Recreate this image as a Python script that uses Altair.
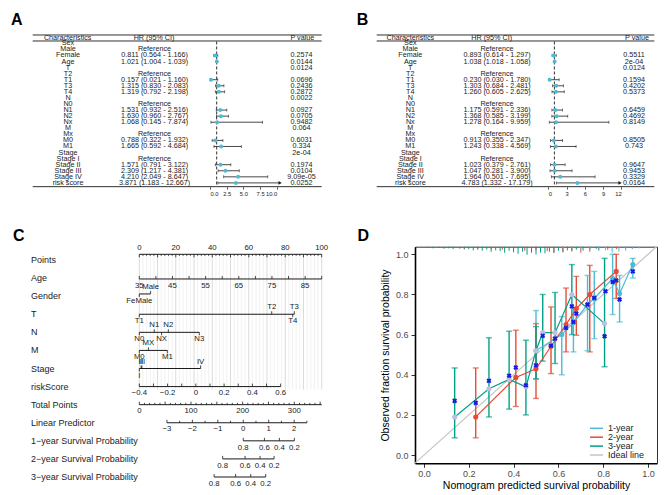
import altair as alt
import pandas as pd

W, H = 653, 484


def P(v):
    return v - 8.0


SANS = "Liberation Sans, Arial, Helvetica, sans-serif"
INK = "#1a1a1a"
CYAN = "#4DBBD5"

# ---------------- Panel A / B : forest tables ----------------
chars = ["Sex", "Male", "Female", "Age", "T", "T2", "T1", "T3", "T4", "N", "N0", "N1", "N2", "Nx",
         "M", "Mx", "M0", "M1", "Stage", "Stage I", "Stage II", "Stage III", "Stage IV", "risk score"]
ref_levels = ["Male", "T2", "N0", "Mx", "Stage I"]

A_hr = [None, None, 0.811, 1.021, None, None, 0.157, 1.315, 1.319, None, None, 1.531, 1.630, 1.068,
        None, None, 0.788, 1.665, None, None, 1.571, 2.309, 4.210, 3.871]
A_lo = [None, None, 0.564, 1.004, None, None, 0.021, 0.830, 0.792, None, None, 0.932, 0.960, 0.145,
        None, None, 0.322, 0.592, None, None, 0.791, 1.217, 2.049, 1.183]
A_hi = [None, None, 1.166, 1.039, None, None, 1.160, 2.083, 2.198, None, None, 2.516, 2.767, 7.874,
        None, None, 1.932, 4.684, None, None, 3.122, 4.381, 8.647, 12.667]
A_p = ["", "", "0.2574", "0.0144", "0.0124", "", "0.0696", "0.2436", "0.2872", "0.0022", "", "0.0927",
       "0.0705", "0.9482", "0.064", "", "0.6031", "0.334", "2e-04", "", "0.1974", "0.0104", "9.09e-05", "0.0252"]

B_hr = [None, None, 0.893, 1.038, None, None, 0.230, 1.303, 1.260, None, None, 1.175, 1.368, 1.278,
        None, None, 0.913, 1.243, None, None, 1.023, 1.047, 1.964, 4.783]
B_lo = [None, None, 0.614, 1.018, None, None, 0.030, 0.684, 0.605, None, None, 0.591, 0.585, 0.164,
        None, None, 0.355, 0.338, None, None, 0.379, 0.281, 0.501, 1.332]
B_hi = [None, None, 1.297, 1.058, None, None, 1.780, 2.481, 2.625, None, None, 2.336, 3.199, 9.959,
        None, None, 2.347, 4.569, None, None, 2.761, 3.900, 7.695, 17.179]
B_p = ["", "", "0.5511", "2e-04", "0.0124", "", "0.1594", "0.4202", "0.5373", "", "", "0.6459", "0.4692",
       "0.8149", "", "", "0.8505", "0.743", "", "", "0.9647", "0.9453", "0.3329", "0.0164"]
headers = ["Characteristics", "HR (95% CI)", "P value"]

A_ticks = [0, 2.5, 5, 7.5, 10]
B_ticks = [0, 3, 6, 9, 12]

# ---------------- Panel C : nomogram ----------------
nomo_rows = ["Points", "Age", "Gender", "T", "N", "M", "Stage", "riskScore", "Total Points",
             "Linear Predictor", "1\u2212year Survival Probability", "2\u2212year Survival Probability",
             "3\u2212year Survival Probability"]
age_ticks = [35, 40, 45, 50, 55, 60, 65, 70, 75, 80, 85, 90]
age_labels = [35, 45, 55, 65, 75, 85]
gender_lv = ["FeMale", "Male"]
gender_pts = [0.0, 6.2]
gender_side = ["below", "above"]
T_lv = ["T1", "T2", "T3", "T4"]
T_pts = [0.0, 72.6, 85.0, 84.1]
T_side = ["below", "above", "above", "below"]
N_lv = ["N0", "N1", "NX", "N2", "N3"]
N_pts = [0.0, 8.2, 12.2, 15.9, 32.9]
N_side = ["below", "above", "below", "above", "below"]
M_lv = ["M0", "MX", "M1"]
M_pts = [0.0, 5.0, 15.4]
M_side = ["below", "above", "below"]
S_lv = ["I", "II", "III", "IV"]
S_pts = [0.0, 1.0, 1.4, 33.6]
S_side = ["below", "above", "above", "above"]
rs_ticks = [-0.4, -0.3, -0.2, -0.1, 0.0, 0.1, 0.2, 0.3, 0.4, 0.5, 0.6]
rs_labels = [-0.4, -0.2, 0.0, 0.2, 0.4, 0.6]
tp_labels = [0, 100, 200, 300]
lp_ticks = [-3, -2.5, -2, -1.5, -1, -0.5, 0, 0.5, 1, 1.5, 2, 2.5]
lp_labels = [-3, -2, -1, 0, 1, 2]
surv_probs = [0.8, 0.6, 0.4, 0.2]
surv1_pts = [57.0, 68.6, 76.8, 85.0]
surv2_pts = [45.7, 58.0, 66.2, 73.9]
surv3_pts = [41.0, 52.8, 61.1, 69.3]

# ---------------- Panel D : calibration ----------------
series = ["1-year", "2-year", "3-year"]
ser_colors = ["#4DBBD5", "#E64B35", "#00A087"]
d1_x = [0.50, 0.615, 0.667, 0.73, 0.76, 0.842, 0.873, 0.932]
d1_y = [0.52, 0.60, 0.66, 0.75, 0.78, 0.88, 0.805, 0.949]
d1_lo = [0.378, 0.40, 0.514, 0.52, 0.58, 0.70, 0.663, 0.882]
d1_hi = [0.72, 0.69, 0.733, 0.895, 0.915, 1.0, 0.895, 0.98]
d2_x = [0.231, 0.41, 0.50, 0.567, 0.634, 0.68, 0.74, 0.858]
d2_y = [0.19, 0.387, 0.43, 0.542, 0.65, 0.73, 0.80, 0.915]
d2_lo = [0.086, 0.242, 0.282, 0.406, 0.514, 0.597, 0.514, 0.78]
d2_hi = [0.434, 0.622, 0.655, 0.738, 0.832, 0.89, 0.945, 1.0]
d3_x = [0.137, 0.29, 0.38, 0.455, 0.50, 0.53, 0.585, 0.66, 0.806]
d3_y = [0.19, 0.33, 0.377, 0.34, 0.52, 0.61, 0.61, 0.80, 0.655]
d3_lo = [0.086, 0.19, 0.229, 0.20, 0.38, 0.468, 0.456, 0.60, 0.44]
d3_hi = [0.434, 0.584, 0.617, 0.572, 0.64, 0.80, 0.81, 0.949, 0.98]
bx_x = [0.137, 0.231, 0.29, 0.38, 0.41, 0.455, 0.5, 0.53, 0.567, 0.585, 0.634, 0.66, 0.667, 0.68,
        0.73, 0.76, 0.806, 0.81, 0.842, 0.858, 0.873, 0.932]
bx_y = [0.27, 0.26, 0.37, 0.395, 0.436, 0.348, 0.447, 0.594, 0.545, 0.58, 0.633, 0.741, 0.663, 0.705,
        0.75, 0.783, 0.592, 0.816, 0.862, 0.87, 0.775, 0.915]
rug3_x = [0.02, 0.04, 0.07, 0.09, 0.11, 0.13, 0.16, 0.18, 0.20, 0.22, 0.24, 0.26, 0.28, 0.30, 0.32, 0.34,
          0.36, 0.38, 0.40, 0.42, 0.44, 0.46, 0.48, 0.50, 0.52, 0.54, 0.56, 0.58, 0.60, 0.62, 0.64, 0.66,
          0.68, 0.71, 0.74, 0.77]
rug3_h = [0.005, 0.008, 0.006, 0.010, 0.008, 0.012, 0.010, 0.014, 0.012, 0.018, 0.015, 0.020, 0.014, 0.025,
          0.018, 0.022, 0.030, 0.020, 0.028, 0.035, 0.025, 0.040, 0.030, 0.038, 0.030, 0.033, 0.025, 0.030,
          0.020, 0.028, 0.018, 0.024, 0.015, 0.020, 0.012, 0.010]
rug2_x = [0.12, 0.18, 0.24, 0.30, 0.35, 0.40, 0.45, 0.50, 0.55, 0.58, 0.62, 0.66, 0.70, 0.74, 0.78, 0.82,
          0.86, 0.90, 0.93]
rug2_h = [0.006, 0.008, 0.010, 0.012, 0.015, 0.012, 0.020, 0.018, 0.022, 0.030, 0.025, 0.020, 0.030, 0.025,
          0.018, 0.015, 0.012, 0.010, 0.008]
rug1_x = [0.62, 0.66, 0.70, 0.74, 0.78, 0.81, 0.84, 0.87, 0.90, 0.93, 0.96]
rug1_h = [0.006, 0.008, 0.010, 0.015, 0.020, 0.018, 0.030, 0.025, 0.020, 0.012, 0.008]
legend_labels = ["1-year", "2-year", "3-year", "Ideal line"]
legend_colors = ["#4DBBD5", "#E64B35", "#00A087", "#C4C4C4"]
LAVENDER = "#BEBEDD"


def sc(dom, rng):
    return alt.Scale(domain=dom, range=rng, nice=False, zero=False)


def letter(t, x, y):
    return alt.Chart(pd.DataFrame({"t": [t]})).mark_text(
        fontSize=16, fontWeight="bold", font=SANS, color="black", align="center", baseline="middle"
    ).encode(x=alt.value(P(x)), y=alt.value(P(y)), text="t:N")


layers = []


# ---------------- forest builder ----------------
def forest(hr, lo, hi, pv, hr_max, clip, xpx, tpx, cpx, hpx, ticks, fmt, lab, lpx):
    n = len(chars)
    ys = sc([0, n - 1], [P(43.3), P(182.9)])
    xs = sc([0, hr_max], [P(xpx[0]), P(xpx[1])])
    hrtxt = []
    for i in range(n):
        if hr[i] is not None:
            hrtxt.append(f"{hr[i]:.3f} ({lo[i]:.3f} - {hi[i]:.3f})")
        elif chars[i] in ref_levels:
            hrtxt.append("Reference")
        else:
            hrtxt.append("")
    tab = pd.DataFrame({"row": list(range(n)), "char": chars, "hrtxt": hrtxt, "p": pv})
    idx = [i for i in range(n) if hr[i] is not None]
    est = pd.DataFrame({"row": idx, "hr": [hr[i] for i in idx], "lo": [lo[i] for i in idx],
                        "hi": [hi[i] for i in idx]})
    est["hi_c"] = est["hi"].clip(upper=clip)
    capped = est[est["hi"] <= clip]
    arrowed = est[est["hi"] > clip]

    def Y(f):
        return alt.Y(f, type="quantitative", scale=ys, axis=None)

    def X(f, axis=None):
        return alt.X(f, type="quantitative", scale=xs, axis=axis)

    out = []
    hl = pd.DataFrame({"ry": [-1.37, -0.38, n - 1 + 0.62]})
    out.append(alt.Chart(hl).mark_rule(color=INK, strokeWidth=0.9).encode(
        x=alt.value(P(tpx[0])), x2=alt.value(P(tpx[1])), y=Y("ry")))
    ref = pd.DataFrame({"x": [1.0], "y0": [-0.3], "y1": [n - 1 + 0.5]})
    out.append(alt.Chart(ref).mark_rule(color=INK, strokeWidth=0.9, strokeDash=[3, 2]).encode(
        x=X("x"), y=Y("y0"), y2=alt.Y2("y1")))
    out.append(alt.Chart(est).mark_rule(color=INK, strokeWidth=0.8).encode(
        x=X("lo"), x2=alt.X2("hi_c"), y=Y("row")))
    out.append(alt.Chart(est).mark_tick(orient="vertical", size=3, thickness=0.8, color=INK).encode(
        x=X("lo"), y=Y("row")))
    out.append(alt.Chart(capped).mark_tick(orient="vertical", size=3, thickness=0.8, color=INK).encode(
        x=X("hi"), y=Y("row")))
    out.append(alt.Chart(arrowed).mark_point(shape="triangle-right", filled=True, size=14, color=INK,
                                             opacity=1).encode(x=X("hi_c"), y=Y("row")))
    ax = alt.Axis(orient="bottom", offset=-(H - P(186.7)), values=ticks, format=fmt, domain=False,
                  grid=False, tickSize=2.5, tickColor=INK, tickWidth=0.7, labelFontSize=5.8,
                  labelFont=SANS, labelColor="#222", labelPadding=1, title=None)
    out.append(alt.Chart(est).mark_circle(size=16, color=CYAN, opacity=1).encode(
        x=X("hr", axis=ax), y=Y("row")))
    for field, xv in [("char", cpx[0]), ("hrtxt", cpx[1]), ("p", cpx[2])]:
        out.append(alt.Chart(tab).mark_text(align="center", baseline="middle", fontSize=7.2, font=SANS,
                                            color=INK).encode(x=alt.value(P(xv)), y=Y("row"),
                                                              text=f"{field}:N"))
    for t, xv in zip(headers, hpx):
        out.append(alt.Chart(pd.DataFrame({"row": [-0.82], "t": [t]})).mark_text(
            align="center", baseline="middle", fontSize=7.2, font=SANS, color=INK).encode(
            x=alt.value(P(xv)), y=Y("row"), text="t:N"))
    out.append(letter(lab, lpx[0], lpx[1]))
    return out


layers += forest(A_hr, A_lo, A_hi, A_p, 10, 10.5, (210, 276.8), (32.7, 321.7), (68, 154.5, 301.5),
                 (67.7, 154, 302.3), A_ticks, ".1f", "A", (16.8, 20))
layers += forest(B_hr, B_lo, B_hi, B_p, 12, 11.8, (548.3, 621.3), (376.7, 654.3), (410.3, 497, 634),
                 (410.3, 491.7, 637), B_ticks, "d", "B", (362.5, 20))

# ---------------- nomogram builder ----------------
ROWPX = (477.0 - 260.0) / 12.0


def r(px):
    return px / ROWPX


def fmtn(v):
    s = "%g" % v
    return s.replace("-", "\u2212")


ysC = sc([0, 12], [P(260), P(477)])
xsC = sc([0, 100], [P(139.3), P(321.7)])
lines, ticks, labs = [], [], []


def add_tick(x, y0, length, up):
    ticks.append({"x": x, "y1": y0, "y2": y0 - r(length) if up else y0 + r(length)})


# Points
y0 = 0 - r(5.7)
lines.append({"y": y0, "x1": 0, "x2": 100})
for v in range(0, 101, 2):
    add_tick(v, y0, 3 if v % 10 == 0 else 1.5, False)
for v in range(0, 101, 20):
    labs.append({"x": v, "y": y0 - r(6), "t": str(v)})
# Age
amin, amax = age_ticks[0], age_ticks[-1]
apts = lambda a: (a - amin) * 100.0 / (amax - amin)
y0 = 1 + r(0.9)
lines.append({"y": y0, "x1": apts(amin), "x2": apts(amax)})
for a in age_ticks:
    add_tick(apts(a), y0, 3, True)
for a in age_labels:
    labs.append({"x": apts(a), "y": y0 + r(6.7), "t": str(a)})
# categorical rows
for ri, lv, pts, side, off in [(2, gender_lv, gender_pts, gender_side, -2.2), (3, T_lv, T_pts, T_side, 0),
                               (4, N_lv, N_pts, N_side, 0), (5, M_lv, M_pts, M_side, 0),
                               (6, S_lv, S_pts, S_side, 0)]:
    y0 = ri + r(off)
    lines.append({"y": y0, "x1": min(pts), "x2": max(pts)})
    for l, p, s in zip(lv, pts, side):
        add_tick(p, y0, 3, s == "above")
        labs.append({"x": p, "y": y0 - r(7) if s == "above" else y0 + r(7), "t": l})
# riskScore
rs0, rs1, rs_end_pts = rs_ticks[0], rs_ticks[-1], 77.5
rpts = lambda v: (v - rs0) * rs_end_pts / (rs1 - rs0)
y0 = 7
lines.append({"y": y0, "x1": rpts(rs0), "x2": rpts(rs1)})
for v in rs_ticks:
    add_tick(rpts(v), y0, 3, True)
for v in rs_labels:
    labs.append({"x": rpts(v), "y": y0 + r(6.5), "t": fmtn(round(v, 1))})
# Total points
tp_max = 353.0
tpts = lambda v: v * 100.0 / tp_max
y0 = 8
lines.append({"y": y0, "x1": 0, "x2": 100})
for v in range(0, 351, 10):
    add_tick(tpts(v), y0, 3 if v % 50 == 0 else 1.8, True)
for v in tp_labels:
    labs.append({"x": tpts(v), "y": y0 + r(6.3), "t": str(v)})
# Linear predictor
lp_zero, lp_unit = 57.0, 13.95
lpts = lambda v: lp_zero + v * lp_unit
y0 = 9
lines.append({"y": y0, "x1": lpts(lp_ticks[0]), "x2": lpts(lp_ticks[-1])})
for v in lp_ticks:
    add_tick(lpts(v), y0, 3 if float(v).is_integer() else 2, True)
for v in lp_labels:
    labs.append({"x": lpts(v), "y": y0 + r(6.7), "t": fmtn(v)})
# survival rows
for ri, pts in [(10, surv1_pts), (11, surv2_pts), (12, surv3_pts)]:
    y0 = ri
    lines.append({"y": y0, "x1": min(pts), "x2": max(pts)})
    for pr, p in zip(surv_probs, pts):
        add_tick(p, y0, 3, True)
        labs.append({"x": p, "y": y0 + r(6.7), "t": fmtn(pr)})

grid_minor = pd.DataFrame({"x": [v for v in range(0, 101, 2) if v % 10], "y1": -r(5.7), "y2": 7 + r(3)})
grid_major = pd.DataFrame({"x": list(range(0, 101, 10)), "y1": -r(5.7), "y2": 7 + r(3)})


def XC(f):
    return alt.X(f, type="quantitative", scale=xsC, axis=None)


def YC(f):
    return alt.Y(f, type="quantitative", scale=ysC, axis=None)


layers.append(alt.Chart(grid_minor).mark_rule(color="#EBEBEB", strokeWidth=0.7).encode(
    x=XC("x"), y=YC("y1"), y2=alt.Y2("y2")))
layers.append(alt.Chart(grid_major).mark_rule(color="#D2D2D2", strokeWidth=0.8).encode(
    x=XC("x"), y=YC("y1"), y2=alt.Y2("y2")))
layers.append(alt.Chart(pd.DataFrame(lines)).mark_rule(color=INK, strokeWidth=1.0).encode(
    x=XC("x1"), x2=alt.X2("x2"), y=YC("y")))
layers.append(alt.Chart(pd.DataFrame(ticks)).mark_rule(color=INK, strokeWidth=0.8).encode(
    x=XC("x"), y=YC("y1"), y2=alt.Y2("y2")))
layers.append(alt.Chart(pd.DataFrame(labs)).mark_text(fontSize=7.8, font=SANS, color="#222",
                                                      align="center", baseline="middle").encode(
    x=XC("x"), y=YC("y"), text="t:N"))
layers.append(alt.Chart(pd.DataFrame({"row": list(range(13)), "lab": nomo_rows})).mark_text(
    fontSize=9, font=SANS, color="#222", align="left", baseline="middle").encode(
    x=alt.value(P(31)), y=YC("row"), text="lab:N"))
layers.append(letter("C", 18.8, 235.8))

# ---------------- calibration builder ----------------
xsD = sc([-0.04, 1.04], [P(415), P(657)])
ysD = sc([-0.041, 1.038], [P(463.3), P(246.7)])


def XD(f, axis=None):
    return alt.X(f, type="quantitative", scale=xsD, axis=axis)


def YD(f, axis=None):
    return alt.Y(f, type="quantitative", scale=ysD, axis=axis)


rows = []
for s, c, xs_, ys_, los, his in [("1-year", ser_colors[0], d1_x, d1_y, d1_lo, d1_hi),
                                 ("2-year", ser_colors[1], d2_x, d2_y, d2_lo, d2_hi),
                                 ("3-year", ser_colors[2], d3_x, d3_y, d3_lo, d3_hi)]:
    for a, b, l, h in zip(xs_, ys_, los, his):
        rows.append({"series": s, "col": c, "ptcol": LAVENDER if s == "3-year" else c,
                     "x": a, "y": b, "lo": l, "hi": h})
cal = pd.DataFrame(rows)
top = 1.038
rug = pd.DataFrame(
    [{"x": a, "y1": top, "y2": top - h, "col": ser_colors[2]} for a, h in zip(rug3_x, rug3_h)] +
    [{"x": a, "y1": top, "y2": top - h, "col": ser_colors[1]} for a, h in zip(rug2_x, rug2_h)] +
    [{"x": a, "y1": top, "y2": top - h, "col": ser_colors[0]} for a, h in zip(rug1_x, rug1_h)])
ideal = pd.DataFrame({"x": [-0.04, 1.04], "y": [-0.04, 1.04]})
bx = pd.DataFrame({"x": bx_x, "y": bx_y})

ax_top = alt.Axis(orient="top", offset=-P(246.7), labels=False, ticks=False, grid=False, domain=True,
                  domainColor="#333", domainWidth=1, title=None)
ax_right = alt.Axis(orient="right", offset=-(W - P(657)), labels=False, ticks=False, grid=False,
                    domain=True, domainColor="#333", domainWidth=1, title=None)
ax_bot = alt.Axis(orient="bottom", offset=-(H - P(463.3)), values=[0, 0.2, 0.4, 0.6, 0.8, 1.0],
                  format=".1f", grid=False, domain=True, domainColor="black", domainWidth=1.6,
                  tickColor="#333", tickSize=4, tickWidth=1, labelFontSize=9, labelColor="#4D4D4D",
                  labelFont=SANS, labelPadding=2, title="Nomogram predicted survival probability",
                  titleFontSize=10.5, titleFont=SANS, titleFontWeight="normal", titleColor="black",
                  titlePadding=2)
ax_left = alt.Axis(orient="left", offset=-P(415), values=[0, 0.2, 0.4, 0.6, 0.8, 1.0], format=".1f",
                   grid=False, domain=True, domainColor="black", domainWidth=1.6, tickColor="#333",
                   tickSize=4, tickWidth=1, labelFontSize=9, labelColor="#4D4D4D", labelFont=SANS,
                   labelPadding=3, title="Observed fraction survival probability", titleFontSize=10.5,
                   titleFont=SANS, titleFontWeight="normal", titleColor="black", titlePadding=5)

layers.append(alt.Chart(rug).mark_rule(strokeWidth=1).encode(
    x=XD("x", ax_top), y=YD("y1", ax_right), y2=alt.Y2("y2"), stroke=alt.Stroke("col:N", scale=None)))
layers.append(alt.Chart(ideal).mark_line(color="#C4C4C4", strokeWidth=1.2, clip=True).encode(
    x=XD("x", ax_bot), y=YD("y", ax_left)))
layers.append(alt.Chart(cal).mark_rule(strokeWidth=1.4).encode(
    x=XD("x"), y=YD("lo"), y2=alt.Y2("hi"), stroke=alt.Stroke("col:N", scale=None)))
layers.append(alt.Chart(cal).mark_tick(orient="horizontal", size=6, thickness=1.4).encode(
    x=XD("x"), y=YD("lo"), color=alt.Color("col:N", scale=None)))
layers.append(alt.Chart(cal).mark_tick(orient="horizontal", size=6, thickness=1.4).encode(
    x=XD("x"), y=YD("hi"), color=alt.Color("col:N", scale=None)))
layers.append(alt.Chart(cal).mark_line(strokeWidth=1.2).encode(
    x=XD("x"), y=YD("y"), detail="series:N", stroke=alt.Stroke("col:N", scale=None)))
layers.append(alt.Chart(cal).mark_circle(size=26, opacity=1).encode(
    x=XD("x"), y=YD("y"), color=alt.Color("ptcol:N", scale=None)))
layers.append(alt.Chart(bx).mark_point(shape="cross", angle=45, filled=True, size=26, color="#1A1AE6",
                                       opacity=1).encode(x=XD("x"), y=YD("y")))
leg = pd.DataFrame({"i": [0, 1, 2, 3], "lab": legend_labels, "col": legend_colors})
ysL = sc([0, 3], [P(428.3), P(455)])
layers.append(alt.Chart(leg).mark_rule(strokeWidth=1.5).encode(
    x=alt.value(P(590)), x2=alt.value(P(603)), y=alt.Y("i:Q", scale=ysL, axis=None),
    stroke=alt.Stroke("col:N", scale=None)))
layers.append(alt.Chart(leg).mark_text(align="left", baseline="middle", fontSize=9, font=SANS,
                                       color="#222").encode(
    x=alt.value(P(608)), y=alt.Y("i:Q", scale=ysL, axis=None), text="lab:N"))
layers.append(letter("D", 363.3, 236))

chart = alt.layer(*layers).resolve_scale(x="independent", y="independent").properties(
    width=W, height=H, autosize=alt.AutoSizeParams(type="none"), padding=0,
    background="white").configure_view(stroke=None)

chart.save("out.html", embed_options={"renderer": "svg", "actions": False})
